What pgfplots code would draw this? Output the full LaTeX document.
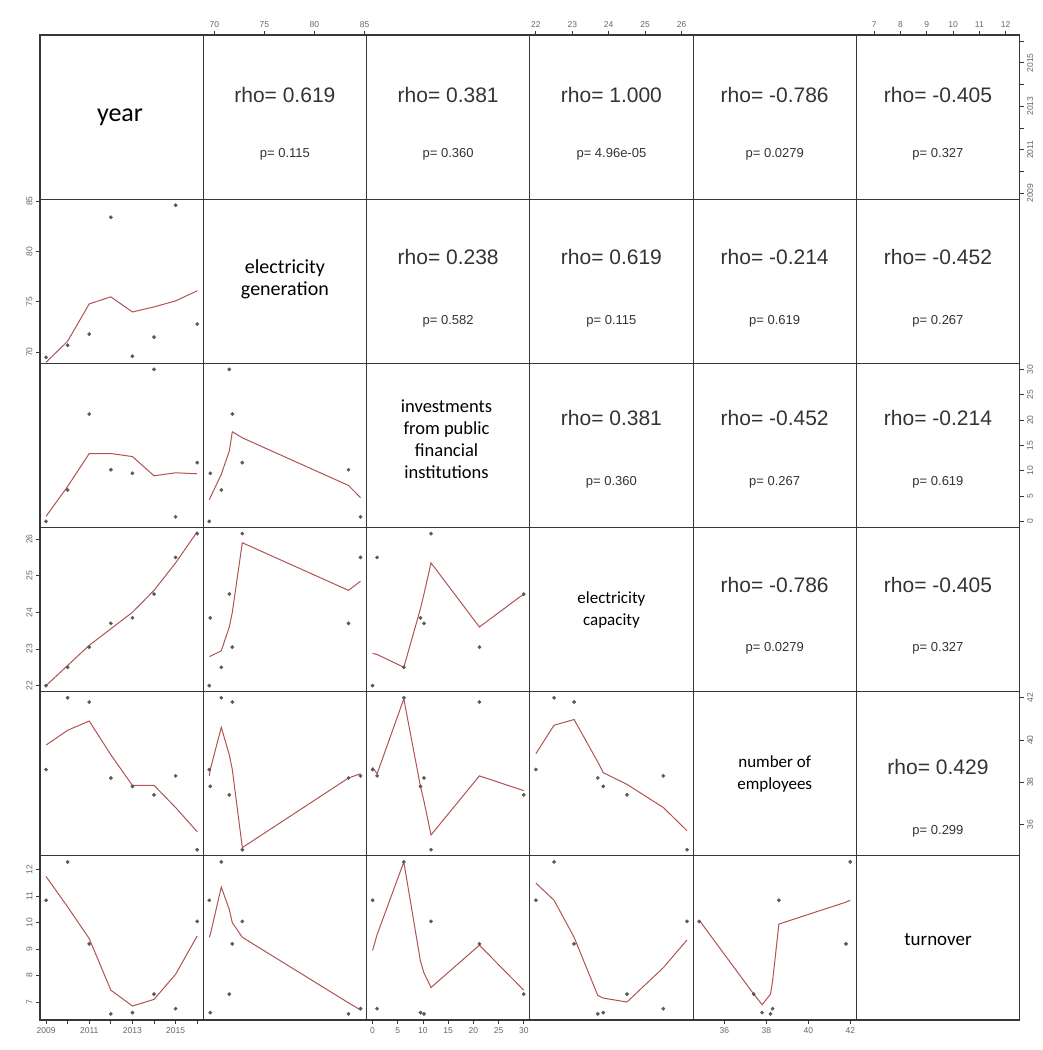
\documentclass[border=0pt]{standalone}
\usepackage{pgfplots}
\pgfplotsset{compat=1.18}
\usepackage{pgfplotstable}
\usepgfplotslibrary{groupplots}
\usepackage{fontspec}
\setmainfont{Liberation Sans}
\newfontfamily\calib{Carlito}

\definecolor{lowc}{RGB}{178,82,82}
\definecolor{framec}{RGB}{55,55,55}

\pgfplotstableread{
year gen inv cap emp turn
2009 69.5 0 22.0 38.6 10.85
2010 70.7 6.2 22.5 42.0 12.3
2011 71.8 21.2 23.05 41.8 9.2
2012 83.4 10.2 23.7 38.2 6.55
2013 69.6 9.5 23.85 37.8 6.6
2014 71.5 30 24.5 37.4 7.3
2015 84.6 0.9 25.5 38.3 6.75
2016 72.8 11.6 26.15 34.8 10.05
}\data

\pgfplotsset{
  cell/.style={width=163.3pt,height=164.2pt,scale only axis,
    xtick=\empty, ytick=\empty,
    axis line style={framec,line width=1.1pt},
    tick style={framec,line width=0.8pt},
    tick align=outside, major tick length=4pt,
    ticklabel style={font=\fontsize{8.5}{10}\selectfont, text=black!60},
    clip=false},
  cx1/.style={xmin=2008.72,xmax=2016.28},
  cx2/.style={xmin=68.9,xmax=85.2},
  cx3/.style={xmin=-1.2,xmax=31.2},
  cx4/.style={xmin=21.834,xmax=26.316},
  cx5/.style={xmin=34.51,xmax=42.29},
  cx6/.style={xmin=6.32,xmax=12.53},
  ry1/.style={ymin=2008.72,ymax=2016.28},
  ry2/.style={ymin=68.9,ymax=85.2},
  ry3/.style={ymin=-1.2,ymax=31.2},
  ry4/.style={ymin=21.834,ymax=26.316},
  ry5/.style={ymin=34.51,ymax=42.29},
  ry6/.style={ymin=6.32,ymax=12.53},
  topx/.style={xtick pos=right, xticklabel pos=right},
  botx/.style={xtick pos=left, xticklabel pos=left},
  lefty/.style={ytick pos=left, yticklabel pos=left, yticklabel style={rotate=90,anchor=south}},
  righty/.style={ytick pos=right, yticklabel pos=right, yticklabel style={rotate=90,anchor=north}},
  pts/.style={only marks, mark=*, mark size=1.7pt, black!65},
  lw/.style={lowc, line width=1.0pt, no marks},
}
\tikzset{
  rhof/.style={font=\fontsize{21}{24}\selectfont, text=black!80, inner sep=0pt},
  pf/.style={font=\fontsize{13}{15}\selectfont, text=black!80, inner sep=0pt},
  diag/.style={text=black, align=center, inner sep=0pt},
}
\newcommand{\rp}[4]{\node[rhof] at (rel axis cs:0.5,#3) {rho= #1};\node[pf] at (rel axis cs:0.5,#4) {p= #2};}

\begin{document}
\begin{tikzpicture}
\begin{groupplot}[group style={group size=6 by 6, horizontal sep=0pt, vertical sep=0pt}, cell]
% ---------- row 1
\nextgroupplot[cx1,ry1]
\node[diag,font=\calib\fontsize{26}{30}\selectfont] at (rel axis cs:0.49,0.5) {year};
\nextgroupplot[cx2,ry1,topx,xtick={70,75,80,85},xticklabels={70,75,80,85}]
\rp{0.619}{0.115}{0.636}{0.273}
\nextgroupplot[cx3,ry1]
\rp{0.381}{0.360}{0.636}{0.273}
\nextgroupplot[cx4,ry1,topx,xtick={22,23,24,25,26},xticklabels={22,23,24,25,26}]
\rp{1.000}{4.96e-05}{0.636}{0.273}
\nextgroupplot[cx5,ry1]
\rp{-0.786}{0.0279}{0.636}{0.273}
\nextgroupplot[cx6,ry1,topx,xtick={7,8,9,10,11,12},xticklabels={7,8,9,10,11,12},
  righty,ytick={2009,2010,2011,2012,2013,2014,2015,2016},yticklabels={2009,,2011,,2013,,2015,}]
\rp{-0.405}{0.327}{0.636}{0.273}
% ---------- row 2
\nextgroupplot[cx1,ry2,lefty,ytick={70,75,80,85},yticklabels={70,75,80,85}]
\addplot[pts] table[x=year,y=gen]{\data};
\addplot[lw] coordinates {(2009,69.0)(2010,71.1)(2011,74.8)(2012,75.5)(2013,74.0)(2014,74.5)(2015,75.1)(2016,76.1)};
\nextgroupplot[cx2,ry2]
\node[diag,font=\calib\fontsize{20}{22}\selectfont] at (rel axis cs:0.5,0.515) {electricity\\generation};
\nextgroupplot[cx3,ry2]
\rp{0.238}{0.582}{0.65}{0.255}
\nextgroupplot[cx4,ry2]
\rp{0.619}{0.115}{0.65}{0.255}
\nextgroupplot[cx5,ry2]
\rp{-0.214}{0.619}{0.65}{0.255}
\nextgroupplot[cx6,ry2]
\rp{-0.452}{0.267}{0.65}{0.255}
% ---------- row 3
\nextgroupplot[cx1,ry3]
\addplot[pts] table[x=year,y=inv]{\data};
\addplot[lw] coordinates {(2009,1.0)(2010,6.9)(2011,13.4)(2012,13.4)(2013,12.8)(2014,9.0)(2015,9.6)(2016,9.4)};
\nextgroupplot[cx2,ry3]
\addplot[pts] table[x=gen,y=inv]{\data};
\addplot[lw] coordinates {(69.5,4.3)(69.6,4.7)(70.7,9.3)(71.5,13.9)(71.8,17.7)(72.8,16.5)(83.4,7.1)(84.6,4.7)};
\nextgroupplot[cx3,ry3]
\node[diag,font=\calib\fontsize{18.5}{22}\selectfont] at (rel axis cs:0.49,0.54) {investments\\from public\\financial\\institutions};
\nextgroupplot[cx4,ry3]
\rp{0.381}{0.360}{0.667}{0.273}
\nextgroupplot[cx5,ry3]
\rp{-0.452}{0.267}{0.667}{0.273}
\nextgroupplot[cx6,ry3,righty,ytick={0,5,10,15,20,25,30},yticklabels={0,5,10,15,20,25,30}]
\rp{-0.214}{0.619}{0.667}{0.273}
% ---------- row 4
\nextgroupplot[cx1,ry4,lefty,ytick={22,23,24,25,26},yticklabels={22,23,24,25,26}]
\addplot[pts] table[x=year,y=cap]{\data};
\addplot[lw] coordinates {(2009,22.0)(2010,22.55)(2011,23.1)(2012,23.55)(2013,24.0)(2014,24.6)(2015,25.35)(2016,26.2)};
\nextgroupplot[cx2,ry4]
\addplot[pts] table[x=gen,y=cap]{\data};
\addplot[lw] coordinates {(69.5,22.8)(69.6,22.8)(70.7,22.95)(71.5,23.6)(71.8,24.0)(72.8,25.9)(83.4,24.6)(84.6,24.85)};
\nextgroupplot[cx3,ry4]
\addplot[pts] table[x=inv,y=cap]{\data};
\addplot[lw] coordinates {(0,22.88)(0.9,22.85)(6.2,22.5)(9.5,24.1)(10.2,24.5)(11.6,25.35)(21.2,23.6)(30,24.5)};
\nextgroupplot[cx4,ry4]
\node[diag,font=\calib\fontsize{17}{22}\selectfont] at (rel axis cs:0.5,0.5) {electricity\\capacity};
\nextgroupplot[cx5,ry4]
\rp{-0.786}{0.0279}{0.651}{0.264}
\nextgroupplot[cx6,ry4]
\rp{-0.405}{0.327}{0.651}{0.264}
% ---------- row 5
\nextgroupplot[cx1,ry5]
\addplot[pts] table[x=year,y=emp]{\data};
\addplot[lw] coordinates {(2009,39.76)(2010,40.46)(2011,40.9)(2012,39.3)(2013,37.85)(2014,37.85)(2015,36.8)(2016,35.65)};
\nextgroupplot[cx2,ry5]
\addplot[pts] table[x=gen,y=emp]{\data};
\addplot[lw] coordinates {(69.5,38.3)(69.6,38.6)(70.7,40.6)(71.5,39.3)(71.8,38.6)(72.8,34.9)(83.4,38.2)(84.6,38.4)};
\nextgroupplot[cx3,ry5]
\addplot[pts] table[x=inv,y=emp]{\data};
\addplot[lw] coordinates {(0,38.7)(0.9,38.4)(6.2,41.95)(9.5,37.8)(10.2,37.1)(11.6,35.5)(21.2,38.3)(30,37.6)};
\nextgroupplot[cx4,ry5]
\addplot[pts] table[x=cap,y=emp]{\data};
\addplot[lw] coordinates {(22.0,39.35)(22.5,40.7)(23.05,40.97)(23.7,38.96)(23.85,38.45)(24.5,37.9)(25.5,36.8)(26.15,35.7)};
\nextgroupplot[cx5,ry5]
\node[diag,font=\calib\fontsize{17}{22}\selectfont] at (rel axis cs:0.5,0.5) {number of\\employees};
\nextgroupplot[cx6,ry5,righty,ytick={36,38,40,42},yticklabels={36,38,40,42}]
\rp{0.429}{0.299}{0.54}{0.15}
% ---------- row 6
\nextgroupplot[cx1,ry6,lefty,ytick={7,8,9,10,11,12},yticklabels={7,8,9,10,11,12},
  botx,xtick={2009,2010,2011,2012,2013,2014,2015,2016},xticklabels={2009,,2011,,2013,,2015,}]
\addplot[pts] table[x=year,y=turn]{\data};
\addplot[lw] coordinates {(2009,11.75)(2010,10.6)(2011,9.4)(2012,7.45)(2013,6.85)(2014,7.1)(2015,8.05)(2016,9.5)};
\nextgroupplot[cx2,ry6]
\addplot[pts] table[x=gen,y=turn]{\data};
\addplot[lw] coordinates {(69.5,9.45)(69.6,9.55)(70.7,11.35)(71.5,10.5)(71.8,10.0)(72.8,9.45)(83.4,6.97)(84.6,6.7)};
\nextgroupplot[cx3,ry6,botx,xtick={0,5,10,15,20,25,30},xticklabels={0,5,10,15,20,25,30}]
\addplot[pts] table[x=inv,y=turn]{\data};
\addplot[lw] coordinates {(0,8.95)(0.9,9.55)(6.2,12.3)(9.5,8.55)(10.2,8.1)(11.6,7.55)(21.2,9.15)(30,7.45)};
\nextgroupplot[cx4,ry6]
\addplot[pts] table[x=cap,y=turn]{\data};
\addplot[lw] coordinates {(22.0,11.5)(22.5,10.85)(23.05,9.45)(23.7,7.25)(23.85,7.15)(24.5,7.0)(25.5,8.3)(26.15,9.35)};
\nextgroupplot[cx5,ry6,botx,xtick={36,38,40,42},xticklabels={36,38,40,42}]
\addplot[pts] table[x=emp,y=turn]{\data};
\addplot[lw] coordinates {(34.8,10.1)(37.4,7.3)(37.8,6.9)(38.2,7.3)(38.3,7.8)(38.6,9.95)(41.8,10.78)(42.0,10.85)};
\nextgroupplot[cx6,ry6]
\node[diag,font=\calib\fontsize{19}{22}\selectfont] at (rel axis cs:0.5,0.49) {turnover};
\end{groupplot}
\pgfresetboundingbox
\path ([shift={(-40pt,35pt)}]group c1r1.north west) rectangle ([shift={(23pt,-30pt)}]group c6r6.south east);
\end{tikzpicture}
\end{document}
